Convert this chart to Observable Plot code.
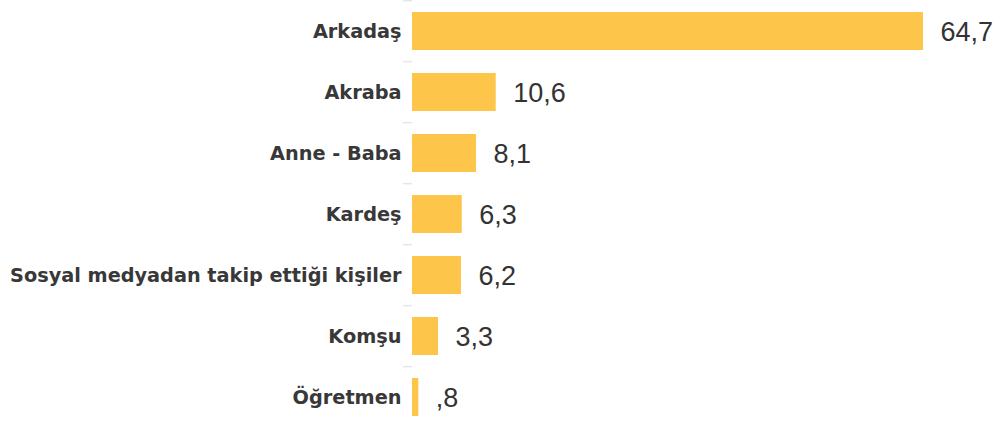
<!DOCTYPE html>
<html>
<head>
<meta charset="utf-8">
<script src="https://cdn.jsdelivr.net/npm/d3@7"></script>
<script src="https://cdn.jsdelivr.net/npm/@observablehq/plot@0.6"></script>
<style>
  html, body { margin: 0; padding: 0; background: #fff; }
  #chart svg { display: block; overflow: visible; }
</style>
</head>
<body>
<div id="chart"></div>
<script>
const categories = ["Arkadaş", "Akraba", "Anne - Baba", "Kardeş", "Sosyal medyadan takip ettiği kişiler", "Komşu", "Öğretmen"];
const values = [64.7, 10.6, 8.1, 6.3, 6.2, 3.3, 0.8];
const valueLabels = ["64,7", "10,6", "8,1", "6,3", "6,2", "3,3", ",8"];

const data = categories.map((c, i) => ({category: c, value: values[i], label: valueLabels[i]}));

const yRange = [-2, 430];
const step = (yRange[1] - yRange[0]) / categories.length;

const chart = Plot.plot({
  width: 1000,
  height: 425,
  marginLeft: 412,
  marginRight: 77,
  marginTop: 0,
  marginBottom: 0,
  x: {domain: [0, 64.7], axis: null},
  y: {domain: categories, range: yRange, paddingInner: 0.38, paddingOuter: 0.19, label: null},
  marks: [
    Plot.barX(data, {x: "value", y: "category", fill: "#fdc64b"}),
    Plot.ruleX([0], {stroke: "#e6e6e6", strokeWidth: 1.5, y1: categories[0], y2: categories[categories.length - 1], insetTop: -step / 2, insetBottom: -step / 2}),
    Plot.ruleY(categories, {y: d => d, x1: 0, x2: 0, insetLeft: -9, stroke: "#e6e6e6", strokeWidth: 1.5, dy: -step / 2}),
    Plot.axisY({tickSize: 0, tickPadding: 11, fontSize: 19.3, fontWeight: 700, fill: "#383838", fontFamily: "DejaVu Sans"}),
    Plot.text(data, {x: "value", y: "category", text: "label", textAnchor: "start", dx: 17, dy: 1, fontSize: 27, fill: "#333", fontFamily: "Liberation Sans"})
  ]
});
document.getElementById("chart").appendChild(chart);
</script>
</body>
</html>
